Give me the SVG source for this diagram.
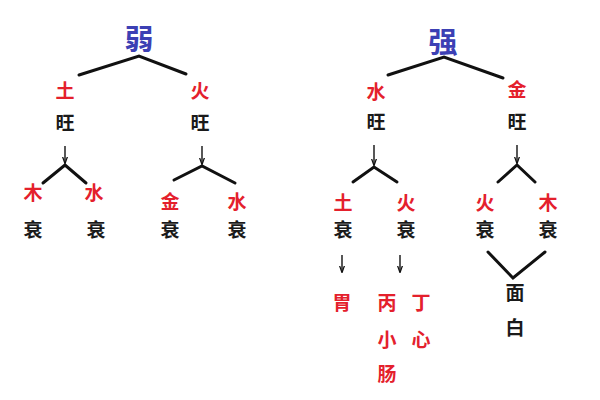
<svg xmlns="http://www.w3.org/2000/svg" width="600" height="400" viewBox="0 0 600 400">
<style>
text{font-family:"Noto Sans CJK SC","Noto Sans CJK JP",sans-serif;font-weight:bold;text-anchor:middle;dominant-baseline:central}
.t{font-size:29px;fill:#3c40b4}
.r{font-size:19px;fill:#e4202c}
.k{font-size:19px;fill:#1a1a1a}
.br{fill:none;stroke:#111;stroke-width:3;stroke-linecap:round;stroke-linejoin:miter}
.ar{fill:none;stroke:#111;stroke-width:1.4}
</style>
<defs>
<marker id="ah" viewBox="0 0 10 10" refX="9" refY="5" markerWidth="7" markerHeight="7" orient="auto" markerUnits="userSpaceOnUse">
<path d="M0,1.5 L10,5 L0,8.5" fill="none" stroke="#111" stroke-width="1.8"/>
</marker>
</defs>
<rect width="600" height="400" fill="#fff"/>
<g id="connectors">
<polyline class="br" points="79,75 139,56 186,74"/>
<polyline class="br" points="43,183 65,165 86,183"/>
<polyline class="br" points="174,180 202,166 235,183"/>
<polyline class="br" points="388,75 444,57 503,78"/>
<polyline class="br" points="353,182 374,167 397,182"/>
<polyline class="br" points="498,182 517,165 535,182"/>
<polyline class="br" points="488,252 513,278 545,252"/>
<line class="ar" x1="65" y1="146" x2="65" y2="163" marker-end="url(#ah)"/>
<line class="ar" x1="202" y1="146" x2="202" y2="164" marker-end="url(#ah)"/>
<line class="ar" x1="374" y1="145" x2="374" y2="165" marker-end="url(#ah)"/>
<line class="ar" x1="517" y1="145" x2="517" y2="163" marker-end="url(#ah)"/>
<line class="ar" x1="342" y1="255" x2="342" y2="272" marker-end="url(#ah)"/>
<line class="ar" x1="400" y1="255" x2="400" y2="272" marker-end="url(#ah)"/>
</g>
<g id="n-ruo"><text class="t" x="139" y="37">弱</text></g>
<g id="n-tu"><text class="r" x="65" y="89">土</text><text class="k" x="65" y="121">旺</text></g>
<g id="n-huo"><text class="r" x="200" y="89">火</text><text class="k" x="200" y="121">旺</text></g>
<g id="n-mu1"><text class="r" x="33" y="191">木</text><text class="k" x="33" y="228">衰</text></g>
<g id="n-shui1"><text class="r" x="94" y="191">水</text><text class="k" x="96" y="228">衰</text></g>
<g id="n-jin1"><text class="r" x="170" y="200">金</text><text class="k" x="170" y="228">衰</text></g>
<g id="n-shui2"><text class="r" x="237" y="200">水</text><text class="k" x="237" y="228">衰</text></g>
<g id="n-qiang"><text class="t" x="443" y="40">强</text></g>
<g id="n-shui3"><text class="r" x="376" y="90">水</text><text class="k" x="376" y="120">旺</text></g>
<g id="n-jin2"><text class="r" x="517" y="88">金</text><text class="k" x="517" y="120">旺</text></g>
<g id="n-tu2"><text class="r" x="343" y="201">土</text><text class="k" x="343" y="228">衰</text></g>
<g id="n-huo2"><text class="r" x="406" y="201">火</text><text class="k" x="406" y="228">衰</text></g>
<g id="n-huo3"><text class="r" x="485" y="201">火</text><text class="k" x="485" y="228">衰</text></g>
<g id="n-mu2"><text class="r" x="548" y="201">木</text><text class="k" x="548" y="228">衰</text></g>
<g id="n-wei"><text class="r" x="342" y="301">胃</text></g>
<g id="n-bing"><text class="r" x="387" y="301">丙</text><text class="r" x="387" y="338">小</text><text class="r" x="387" y="372">肠</text></g>
<g id="n-ding"><text class="r" x="421" y="301">丁</text><text class="r" x="421" y="338">心</text></g>
<g id="n-mian"><text class="k" x="515" y="291">面</text><text class="k" x="515" y="326">白</text></g>
</svg>
